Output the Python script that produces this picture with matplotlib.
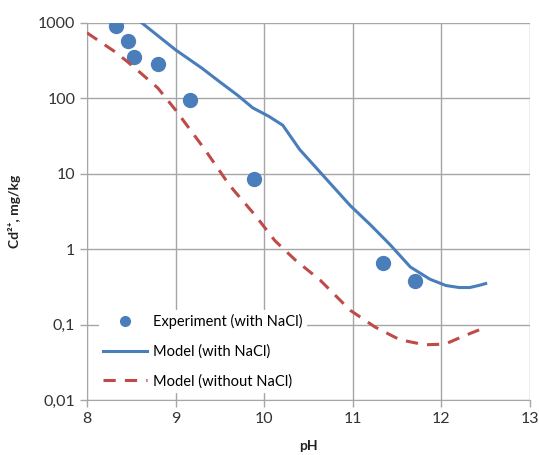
import numpy as np
import matplotlib.pyplot as plt
from matplotlib.ticker import FixedLocator, FixedFormatter, NullLocator

plt.rcParams['font.family'] = ['Lato', 'DejaVu Sans']

# Experimental points
exp_ph = [8.33, 8.46, 8.53, 8.80, 9.16, 9.88, 11.34, 11.70]
exp_cd = [910, 575, 355, 286, 95, 8.5, 0.66, 0.38]

# Model with NaCl
m1_ph = [8.62, 9.0, 9.3, 9.5, 9.7, 9.87, 10.05, 10.21, 10.4, 10.69, 10.97, 11.2,
         11.42, 11.65, 11.87, 12.05, 12.2, 12.32, 12.42, 12.5]
m1_cd = [1000, 440, 250, 165, 110, 75, 58, 44, 21, 8.8, 3.8, 2.1,
         1.15, 0.58, 0.40, 0.33, 0.31, 0.31, 0.33, 0.35]

# Model without NaCl
m2_ph = [8.0, 8.32, 8.46, 8.62, 8.80, 9.0, 9.33, 9.61, 9.9, 10.12, 10.35, 10.63,
         10.97, 11.25, 11.53, 11.81, 12.04, 12.27, 12.5]
m2_cd = [740, 412, 304, 210, 137, 70, 21, 7.0, 2.8, 1.3, 0.72, 0.39,
         0.155, 0.093, 0.063, 0.054, 0.055, 0.072, 0.092]

yticks = [0.01, 0.1, 1, 10, 100, 1000]
ylabels = ['0,01', '0,1', '1', '10', '100', '1000']

fig = plt.figure(figsize=(5.39, 4.55), dpi=100)
ax = fig.add_axes([0.1614, 0.1209, 0.8219, 0.8286])

blue = '#4A7EBB'
red = '#BE4B48'
ax.plot(exp_ph, exp_cd, 'o', color=blue, markersize=10, label='Experiment (with NaCl)', zorder=3)
ax.plot(m1_ph, m1_cd, '-', color=blue, lw=2.2, label='Model (with NaCl)', zorder=3)
ax.plot(m2_ph, m2_cd, '--', color=red, lw=2.2, dashes=(4, 3), label='Model (without NaCl)', zorder=3)

ax.set_yscale('log')
ax.set_xlim(8, 13)
ax.set_ylim(0.01, 1000)
ax.yaxis.set_major_locator(FixedLocator(yticks))
ax.yaxis.set_major_formatter(FixedFormatter(ylabels))
ax.yaxis.set_minor_locator(NullLocator())
ax.set_xticks([8, 9, 10, 11, 12, 13])

ax.grid(True, color='#A6A6A6', lw=1)
ax.set_axisbelow(True)
for s in ['top', 'right']:
    ax.spines[s].set_visible(False)
for s in ['left', 'bottom']:
    ax.spines[s].set_color('#A6A6A6')
ax.tick_params(colors='#A6A6A6', labelcolor='#333333', labelsize=11.5, length=5, width=1)

ax.set_xlabel('pH', fontweight='bold', fontsize=10, color='#222222', labelpad=10)
ax.set_ylabel('Cd²⁺, mg/kg', fontweight='bold', fontsize=10, color='#222222', labelpad=12)

leg = ax.legend(loc='lower left', bbox_to_anchor=(0.01, 0.0), frameon=True, fontsize=10.5,
                handlelength=3.0, handletextpad=0.4, labelspacing=1.05, borderpad=0.3,
                markerscale=0.7)
leg.get_frame().set_edgecolor('none')
leg.get_frame().set_facecolor('white')
leg.get_frame().set_alpha(1)

fig.savefig('out.png', dpi=100)
